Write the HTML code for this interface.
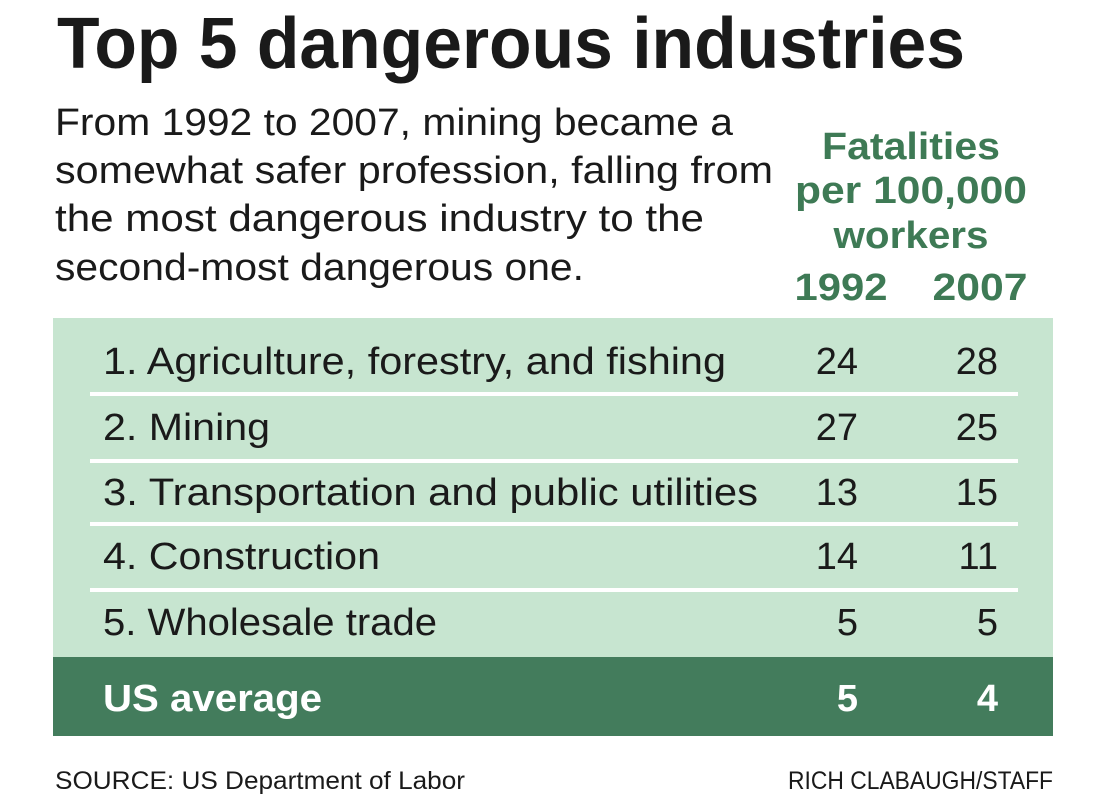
<!DOCTYPE html>
<html><head><style>body{margin:0;background:#fff}svg{display:block}</style></head><body>
<svg width="1103" height="800" xmlns="http://www.w3.org/2000/svg" font-family="Liberation Sans, sans-serif">
<text x="57" y="68" font-size="72" font-weight="bold" fill="#1a1a1a" textLength="908" lengthAdjust="spacingAndGlyphs">Top 5 dangerous industries</text>
<g font-size="38" fill="#1a1a1a">
<text x="55" y="135" textLength="678" lengthAdjust="spacingAndGlyphs">From 1992 to 2007, mining became a</text>
<text x="55" y="183" textLength="718" lengthAdjust="spacingAndGlyphs">somewhat safer profession, falling from</text>
<text x="55" y="231" textLength="649" lengthAdjust="spacingAndGlyphs">the most dangerous industry to the</text>
<text x="55" y="280" textLength="529" lengthAdjust="spacingAndGlyphs">second-most dangerous one.</text>
</g>
<g font-size="38" font-weight="bold" fill="#3e7a55" text-anchor="middle">
<text x="911" y="159" textLength="178" lengthAdjust="spacingAndGlyphs">Fatalities</text>
<text x="911" y="203" textLength="232" lengthAdjust="spacingAndGlyphs">per 100,000</text>
<text x="911" y="248" textLength="155" lengthAdjust="spacingAndGlyphs">workers</text>
<text x="841" y="300" textLength="93" lengthAdjust="spacingAndGlyphs">1992</text>
<text x="980" y="300" textLength="95" lengthAdjust="spacingAndGlyphs">2007</text>
</g>
<rect x="53" y="318" width="1000" height="339" fill="#c7e5d0"/>
<rect x="53" y="657" width="1000" height="79" fill="#437c5c"/>
<g fill="#fff">
<rect x="90" y="392" width="928" height="4"/>
<rect x="90" y="459" width="928" height="4"/>
<rect x="90" y="522" width="928" height="4"/>
<rect x="90" y="588" width="928" height="4"/>
</g>
<g font-size="38" fill="#1a1a1a">
<text x="103" y="374" textLength="623" lengthAdjust="spacingAndGlyphs">1. Agriculture, forestry, and fishing</text>
<text x="103" y="440" textLength="167" lengthAdjust="spacingAndGlyphs">2. Mining</text>
<text x="103" y="505" textLength="655" lengthAdjust="spacingAndGlyphs">3. Transportation and public utilities</text>
<text x="103" y="569" textLength="277" lengthAdjust="spacingAndGlyphs">4. Construction</text>
<text x="103" y="635" textLength="334" lengthAdjust="spacingAndGlyphs">5. Wholesale trade</text>
<g text-anchor="end">
<text x="858" y="374">24</text><text x="998" y="374">28</text>
<text x="858" y="440">27</text><text x="998" y="440">25</text>
<text x="858" y="505">13</text><text x="998" y="505">15</text>
<text x="858" y="569">14</text><text x="998" y="569">11</text>
<text x="858" y="635">5</text><text x="998" y="635">5</text>
</g>
</g>
<g font-size="38" font-weight="bold" fill="#fff">
<text x="103" y="711" textLength="219" lengthAdjust="spacingAndGlyphs">US average</text>
<text x="858" y="711" text-anchor="end">5</text>
<text x="998" y="711" text-anchor="end">4</text>
</g>
<g font-size="25" fill="#1a1a1a">
<text x="55" y="789" textLength="410" lengthAdjust="spacingAndGlyphs">SOURCE: US Department of Labor</text>
<text x="1053" y="789" text-anchor="end" textLength="265" lengthAdjust="spacingAndGlyphs">RICH CLABAUGH/STAFF</text>
</g>
</svg>
</body></html>
